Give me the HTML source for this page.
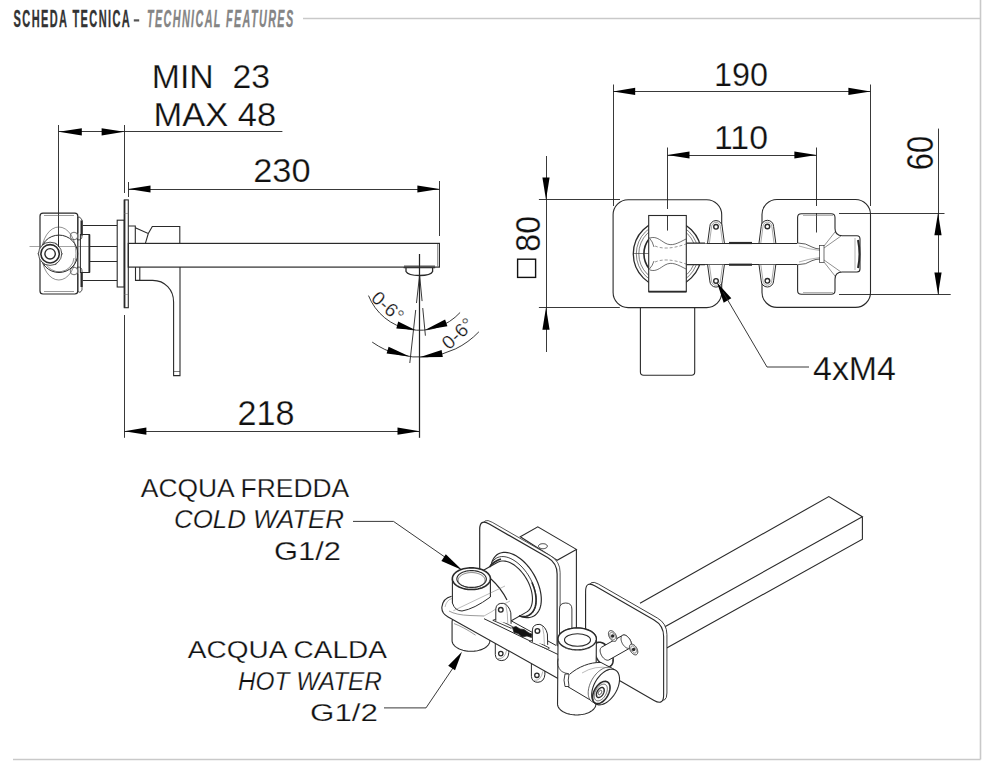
<!DOCTYPE html>
<html><head><meta charset="utf-8"><style>
html,body{margin:0;padding:0;background:#fff;width:1000px;height:776px;overflow:hidden}
svg{display:block}
</style></head><body>
<svg width="1000" height="776" viewBox="0 0 1000 776">
<rect width="1000" height="776" fill="#fff"/>
<g stroke="#333" stroke-width="0.35">
<text x="13.6" y="27.0" font-family="Liberation Sans" font-size="23.7" font-weight="bold" font-style="normal" fill="#333" letter-spacing="3.00" textLength="117.5" lengthAdjust="spacingAndGlyphs">SCHEDA TECNICA</text>
</g>
<rect x="133.8" y="19.3" width="5.4" height="2.2" fill="#555"/>
<g stroke="#858585" stroke-width="0.35">
<text x="147.0" y="27.0" font-family="Liberation Sans" font-size="23.7" font-weight="bold" font-style="italic" fill="#858585" letter-spacing="3.00" textLength="147.5" lengthAdjust="spacingAndGlyphs">TECHNICAL FEATURES</text>
</g>
<line x1="303.0" y1="18.5" x2="980.5" y2="18.5" stroke="#c9c9c9" stroke-width="1.60" />
<line x1="980.5" y1="0.0" x2="980.5" y2="759.5" stroke="#c9c9c9" stroke-width="1.60" />
<line x1="13.0" y1="759.5" x2="980.5" y2="759.5" stroke="#c9c9c9" stroke-width="1.60" />
<line x1="58.5" y1="125.0" x2="58.5" y2="247.0" stroke="#222" stroke-width="0.90" />
<line x1="124.5" y1="125.0" x2="124.5" y2="193.0" stroke="#222" stroke-width="0.90" />
<line x1="58.7" y1="131.5" x2="282.4" y2="131.5" stroke="#222" stroke-width="0.90" />
<polygon points="58.7,131.8 81.8,135.4 81.8,128.2" fill="#000"/>
<polygon points="124.3,131.8 101.6,128.2 101.6,135.4" fill="#000"/>
<text x="151.8" y="88.4" font-family="Liberation Sans" font-size="33.5" font-weight="normal" font-style="normal" fill="#111" textLength="118.2" lengthAdjust="spacingAndGlyphs" stroke="#fff" stroke-width="0.25">MIN&#160;&#160;23</text>
<text x="153.6" y="125.5" font-family="Liberation Sans" font-size="33.5" font-weight="normal" font-style="normal" fill="#111" textLength="122.6" lengthAdjust="spacingAndGlyphs" stroke="#fff" stroke-width="0.25">MAX 48</text>
<line x1="128.5" y1="182.0" x2="128.5" y2="197.0" stroke="#222" stroke-width="0.90" />
<line x1="439.5" y1="181.0" x2="439.5" y2="236.0" stroke="#222" stroke-width="0.90" />
<line x1="128.4" y1="189.5" x2="439.5" y2="189.5" stroke="#222" stroke-width="0.90" />
<polygon points="128.4,189.0 150.5,192.6 150.5,185.4" fill="#000"/>
<polygon points="439.5,189.0 417.4,185.4 417.4,192.6" fill="#000"/>
<text x="253.2" y="182.2" font-family="Liberation Sans" font-size="33.5" font-weight="normal" font-style="normal" fill="#111" textLength="57.4" lengthAdjust="spacingAndGlyphs" stroke="#fff" stroke-width="0.25">230</text>
<line x1="124.5" y1="315.0" x2="124.5" y2="437.8" stroke="#222" stroke-width="0.90" />
<line x1="419.5" y1="254.0" x2="419.5" y2="437.8" stroke="#222" stroke-width="1.25" />
<line x1="124.3" y1="431.5" x2="419.6" y2="431.5" stroke="#222" stroke-width="0.90" />
<polygon points="124.3,431.2 146.4,434.8 146.4,427.6" fill="#000"/>
<polygon points="419.6,431.2 397.5,427.6 397.5,434.8" fill="#000"/>
<text x="237.4" y="425.2" font-family="Liberation Sans" font-size="34.2" font-weight="normal" font-style="normal" fill="#111" textLength="57.0" lengthAdjust="spacingAndGlyphs" stroke="#fff" stroke-width="0.25">218</text>
<rect x="40" y="213.2" width="37.8" height="80.8" rx="3" fill="none" stroke="#2a2a2a" stroke-width="1.2"/>
<line x1="44.0" y1="215.5" x2="74.0" y2="215.5" stroke="#555" stroke-width="0.60" />
<line x1="44.0" y1="291.5" x2="74.0" y2="291.5" stroke="#555" stroke-width="0.60" />
<path d="M77.8 217 V233 Q74 236 77.8 240 Q82 240 82 236 V220 Q80 216 77.8 217 Z" stroke="#2a2a2a" stroke-width="0.80" fill="none" />
<path d="M77.8 267 Q74 270 77.8 274 V291 Q80 294 82 290 V271 Q82 267 77.8 267 Z" stroke="#2a2a2a" stroke-width="0.80" fill="none" />
<circle cx="74" cy="236" r="3.8" fill="#fff" stroke="#333" stroke-width="0.7"/>
<circle cx="74" cy="271" r="3.8" fill="#fff" stroke="#333" stroke-width="0.7"/>
<rect x="80.5" y="220.5" width="2.2" height="15" fill="#2a2a2a"/>
<rect x="80.5" y="272" width="2.2" height="15" fill="#2a2a2a"/>
<ellipse cx="58.8" cy="253.5" rx="17.2" ry="26.5" fill="none" stroke="#444" stroke-width="0.6"/>
<circle cx="59" cy="253.8" r="18.7" fill="none" stroke="#2a2a2a" stroke-width="1.0"/>
<path d="M45 262 A15 15 0 0 0 74 258" stroke="#444" stroke-width="0.60" fill="none" />
<line x1="29.5" y1="246.5" x2="105.0" y2="246.5" stroke="#666" stroke-width="0.60" />
<polygon points="62.2,253.8 56.1,264.3 44,264.3 38,253.8 44,243.3 56.1,243.3" fill="#fff" stroke="#2a2a2a" stroke-width="0.8"/>
<circle cx="50.1" cy="253.8" r="11.6" fill="#fff" stroke="#2a2a2a" stroke-width="0.8"/>
<circle cx="50.1" cy="253.8" r="9.2" fill="none" stroke="#2a2a2a" stroke-width="1.6"/>
<circle cx="50.1" cy="253.8" r="5.2" fill="none" stroke="#2a2a2a" stroke-width="1.4"/>
<line x1="58.5" y1="240.0" x2="58.5" y2="247.0" stroke="#222" stroke-width="0.90" />
<rect x="80.4" y="234.5" width="9" height="38" fill="none" stroke="#2a2a2a" stroke-width="1.0"/>
<line x1="89.4" y1="234.5" x2="89.4" y2="272.5" stroke="#2a2a2a" stroke-width="1.80" />
<line x1="82.7" y1="225.5" x2="117.2" y2="225.5" stroke="#2a2a2a" stroke-width="1.10" />
<line x1="82.7" y1="280.5" x2="117.2" y2="280.5" stroke="#2a2a2a" stroke-width="1.10" />
<line x1="89.4" y1="246.5" x2="124.3" y2="246.5" stroke="#2a2a2a" stroke-width="1.10" />
<line x1="89.4" y1="261.5" x2="124.3" y2="261.5" stroke="#2a2a2a" stroke-width="1.10" />
<rect x="117.2" y="220.2" width="7.1" height="66.8" fill="#fff" stroke="#2a2a2a" stroke-width="1.1"/>
<rect x="124.3" y="199.9" width="4" height="107.8" fill="#fff" stroke="#2a2a2a" stroke-width="1.1"/>
<line x1="124.6" y1="199.9" x2="124.6" y2="307.7" stroke="#2a2a2a" stroke-width="1.60" />
<line x1="124.3" y1="213.5" x2="128.3" y2="213.5" stroke="#777" stroke-width="0.50" />
<line x1="124.3" y1="294.5" x2="128.3" y2="294.5" stroke="#777" stroke-width="0.50" />
<path d="M128.3 226 H135.3 V243" stroke="#2a2a2a" stroke-width="1.10" fill="none" />
<path d="M135.3 227.7 L148.3 233.5 L145.4 243.4 M148.3 233.5 L152.3 226.5 H179.8 V243.4" stroke="#2a2a2a" stroke-width="1.10" fill="none" />
<rect x="128.3" y="243.4" width="311.1" height="23.7" fill="none" stroke="#2a2a2a" stroke-width="1.2"/>
<line x1="437.5" y1="244.0" x2="437.5" y2="266.5" stroke="#555" stroke-width="0.60" />
<path d="M135.5 267.1 V280.4 H139.8 V267.1" stroke="#2a2a2a" stroke-width="1.10" fill="none" />
<path d="M139.8 280.4 H152.7 C165 280.4 173.6 290 173.6 302 V375.6 H180 V267.1" stroke="#2a2a2a" stroke-width="1.10" fill="none" />
<line x1="173.6" y1="371.5" x2="180.0" y2="371.5" stroke="#2a2a2a" stroke-width="0.60" />
<path d="M403.6 267.6 H435.2 M406 268 V271.5 Q408 275.5 419.6 275.5 Q431 275.5 432.6 271.5 V268" stroke="#2a2a2a" stroke-width="1.30" fill="none" />
<line x1="404.0" y1="266.4" x2="435.0" y2="266.4" stroke="#555" stroke-width="1.80" />
<line x1="419.5" y1="254.0" x2="419.5" y2="275.0" stroke="#222" stroke-width="0.90" />
<path d="M419.6 275.2 L409.8 363.0" stroke="#222" stroke-width="0.90" fill="none" stroke-dasharray="28 7 60"/>
<path d="M419.6 275.2 L425.4 335.7" stroke="#222" stroke-width="0.90" fill="none" stroke-dasharray="26 7 60"/>
<path d="M368.5 295.6 A55.0 55.0 0 0 0 460.1 312.5" stroke="#222" stroke-width="0.90" fill="none" />
<path d="M372.2 342.1 A82.0 82.0 0 0 0 478.9 331.8" stroke="#222" stroke-width="0.90" fill="none" />
<polygon points="415.3,330.0 398.2,321.5 396.3,328.4" fill="#000"/>
<polygon points="424.9,329.9 447.4,326.2 445.1,319.4" fill="#000"/>
<polygon points="409.6,356.6 388.6,346.7 386.6,353.6" fill="#000"/>
<polygon points="419.6,357.2 442.8,357.1 441.6,350.0" fill="#000"/>
<text x="0.0" y="0.0" font-family="Liberation Sans" font-size="18.9" font-weight="normal" font-style="normal" fill="#111" textLength="36.0" lengthAdjust="spacingAndGlyphs" stroke="#fff" stroke-width="0.25" transform="translate(370,299.5) rotate(42)">0-6°</text>
<text x="0.0" y="0.0" font-family="Liberation Sans" font-size="18.9" font-weight="normal" font-style="normal" fill="#111" textLength="36.0" lengthAdjust="spacingAndGlyphs" stroke="#fff" stroke-width="0.25" transform="translate(449,350.5) rotate(-43)">0-6°</text>
<path d="M640.4 307.6 V372 Q640.4 375.2 643.6 375.2 H691.5 Q694.7 375.2 694.7 372 V307.6" stroke="#2a2a2a" stroke-width="1.10" fill="none" />
<rect x="613.1" y="199.7" width="108.6" height="107.9" rx="15" fill="#fff" stroke="#2a2a2a" stroke-width="1.1"/>
<rect x="762" y="199.5" width="108.5" height="107.9" rx="15" fill="#fff" stroke="#2a2a2a" stroke-width="1.1"/>
<rect x="686.3" y="243.6" width="111.3" height="20.5" fill="#fff"/>
<line x1="686.3" y1="243.5" x2="797.6" y2="243.5" stroke="#2a2a2a" stroke-width="1.10" />
<line x1="686.3" y1="264.5" x2="797.6" y2="264.5" stroke="#2a2a2a" stroke-width="1.10" />
<line x1="729.0" y1="243.0" x2="752.0" y2="243.0" stroke="#2a2a2a" stroke-width="2.20" />
<line x1="729.0" y1="264.7" x2="752.0" y2="264.7" stroke="#2a2a2a" stroke-width="2.20" />
<circle cx="667.3" cy="253.8" r="34" fill="none" stroke="#2a2a2a" stroke-width="1.3"/>
<circle cx="667.3" cy="253.8" r="31" fill="none" stroke="#2a2a2a" stroke-width="0.6"/>
<circle cx="667.3" cy="253.8" r="28.5" fill="none" stroke="#2a2a2a" stroke-width="0.6"/>
<rect x="686.8" y="243.6" width="20" height="20.5" fill="#fff"/>
<path d="M686.3 243 H705 M686.3 264.7 H705" stroke="#2a2a2a" stroke-width="1.10" fill="none" />
<path d="M649 239 A24 24 0 0 0 649 268.5" stroke="#2a2a2a" stroke-width="1.60" fill="none" />
<line x1="633.5" y1="253.5" x2="649.0" y2="253.5" stroke="#2a2a2a" stroke-width="0.60" />
<rect x="648.7" y="215.5" width="37.6" height="76.2" fill="#fff" stroke="#2a2a2a" stroke-width="1.1"/>
<line x1="648.7" y1="291.7" x2="686.3" y2="291.7" stroke="#2a2a2a" stroke-width="1.80" />
<line x1="667.5" y1="215.5" x2="667.5" y2="230.6" stroke="#222" stroke-width="0.90" />
<path d="M650 238 C656 236 660 240 665 243 C672 247 678 243 686 239" stroke="#333" stroke-width="0.70" fill="none" />
<path d="M650 270 C656 272 660 268 665 265 C672 261 678 265 686 269" stroke="#333" stroke-width="0.70" fill="none" />
<path d="M655 246 C662 249 672 249 686 244" stroke="#555" stroke-width="0.60" fill="none" stroke-dasharray="3 2"/>
<path d="M655 262 C662 259 672 259 686 264" stroke="#555" stroke-width="0.60" fill="none" stroke-dasharray="3 2"/>
<path d="M648.7 237 Q653 242 654 247 M648.7 270 Q653 265 654 261" stroke="#333" stroke-width="0.70" fill="none" />
<path d="M707.6 243 L709.8 226.8 A6.2 6.2 0 0 1 722.2 226.8 L724.4 243" stroke="#2a2a2a" stroke-width="1.00" fill="#fff" />
<path d="M709.4 243 L711.6 226.8 A4.4 4.4 0 0 1 720.4 226.8 L722.6 243" stroke="#555" stroke-width="0.50" fill="none" />
<circle cx="716.0" cy="226.8" r="2.3" fill="#fff" stroke="#2a2a2a" stroke-width="1.4"/>
<path d="M707.6 264.7 L709.8 280.9 A6.2 6.2 0 0 0 722.2 280.9 L724.4 264.7" stroke="#2a2a2a" stroke-width="1.00" fill="#fff" />
<path d="M709.4 264.7 L711.6 280.9 A4.4 4.4 0 0 0 720.4 280.9 L722.6 264.7" stroke="#555" stroke-width="0.50" fill="none" />
<circle cx="716.0" cy="280.9" r="2.3" fill="#fff" stroke="#2a2a2a" stroke-width="1.4"/>
<path d="M759.0 243 L761.2 226.5 A6.2 6.2 0 0 1 773.6 226.5 L775.8 243" stroke="#2a2a2a" stroke-width="1.00" fill="#fff" />
<path d="M760.8 243 L763.0 226.5 A4.4 4.4 0 0 1 771.8 226.5 L774.0 243" stroke="#555" stroke-width="0.50" fill="none" />
<circle cx="767.4" cy="226.5" r="2.3" fill="#fff" stroke="#2a2a2a" stroke-width="1.4"/>
<path d="M759.0 264.7 L761.2 280.8 A6.2 6.2 0 0 0 773.6 280.8 L775.8 264.7" stroke="#2a2a2a" stroke-width="1.00" fill="#fff" />
<path d="M760.8 264.7 L763.0 280.8 A4.4 4.4 0 0 0 771.8 280.8 L774.0 264.7" stroke="#555" stroke-width="0.50" fill="none" />
<circle cx="767.4" cy="280.8" r="2.3" fill="#fff" stroke="#2a2a2a" stroke-width="1.4"/>
<path d="M797.6 243 V217.5 Q797.6 213.7 801.4 213.7 H831.2 Q835 213.7 835 217.5 V228.5 Q835 235.7 842.2 235.7 H857 Q860 235.7 860 239 V269 Q860 272 857 272 H842.2 Q835 272 835 279.2 V290.4 Q835 294.2 831.2 294.2 H801.4 Q797.6 294.2 797.6 290.4 V264.7" stroke="#2a2a2a" stroke-width="1.10" fill="#fff" />
<line x1="816.5" y1="213.0" x2="816.5" y2="232.5" stroke="#222" stroke-width="0.90" />
<line x1="803.0" y1="215.5" x2="833.0" y2="215.5" stroke="#666" stroke-width="0.50" />
<line x1="803.0" y1="292.5" x2="833.0" y2="292.5" stroke="#666" stroke-width="0.50" />
<path d="M797.6 243 Q806 243 812 247 Q816 249 820 249 M797.6 264.7 Q806 264.7 812 260.7 Q816 259 820 259" stroke="#333" stroke-width="0.80" fill="none" />
<path d="M799 246 Q808 249 820 250.5 M799 262 Q808 259 820 257.5" stroke="#666" stroke-width="0.50" fill="none" />
<rect x="819.5" y="245.5" width="4.5" height="17" fill="none" stroke="#333" stroke-width="0.7"/>
<path d="M824 246 L835 232 M824 262 L835 276 M824 248 L841 236 M824 260 L841 272" stroke="#444" stroke-width="0.60" fill="none" />
<path d="M858 240 Q861 254 858 268" stroke="#2a2a2a" stroke-width="2.00" fill="none" />
<path d="M855 238 V270" stroke="#666" stroke-width="0.50" fill="none" />
<line x1="613.5" y1="84.5" x2="613.5" y2="206.0" stroke="#222" stroke-width="0.90" />
<line x1="870.5" y1="84.5" x2="870.5" y2="206.0" stroke="#222" stroke-width="0.90" />
<line x1="613.1" y1="91.5" x2="870.5" y2="91.5" stroke="#222" stroke-width="0.90" />
<polygon points="613.1,91.4 635.2,95.0 635.2,87.8" fill="#000"/>
<polygon points="870.5,91.4 848.4,87.8 848.4,95.0" fill="#000"/>
<text x="714.0" y="85.8" font-family="Liberation Sans" font-size="32.8" font-weight="normal" font-style="normal" fill="#111" textLength="54.0" lengthAdjust="spacingAndGlyphs" stroke="#fff" stroke-width="0.25">190</text>
<line x1="667.5" y1="147.5" x2="667.5" y2="209.0" stroke="#222" stroke-width="0.90" />
<line x1="816.5" y1="147.5" x2="816.5" y2="206.0" stroke="#222" stroke-width="0.90" />
<line x1="667.4" y1="155.5" x2="816.5" y2="155.5" stroke="#222" stroke-width="0.90" />
<polygon points="667.4,155.0 689.5,158.6 689.5,151.4" fill="#000"/>
<polygon points="816.5,155.0 794.4,151.4 794.4,158.6" fill="#000"/>
<text x="714.0" y="148.8" font-family="Liberation Sans" font-size="32.8" font-weight="normal" font-style="normal" fill="#111" textLength="54.0" lengthAdjust="spacingAndGlyphs" stroke="#fff" stroke-width="0.25">110</text>
<line x1="538.9" y1="199.5" x2="620.0" y2="199.5" stroke="#222" stroke-width="0.90" />
<line x1="538.9" y1="307.5" x2="619.8" y2="307.5" stroke="#222" stroke-width="0.90" />
<line x1="546.5" y1="156.0" x2="546.5" y2="352.0" stroke="#222" stroke-width="0.90" />
<polygon points="546.0,199.8 549.6,177.6 542.4,177.6" fill="#000"/>
<polygon points="546.0,307.6 542.4,329.8 549.6,329.8" fill="#000"/>
<text x="0.0" y="0.0" font-family="Liberation Sans" font-size="34.4" font-weight="normal" font-style="normal" fill="#111" textLength="35.7" lengthAdjust="spacingAndGlyphs" stroke="#fff" stroke-width="0.25" transform="translate(540,251.7) rotate(-90)">80</text>
<rect x="517.6" y="259.2" width="18" height="18.2" fill="none" stroke="#111" stroke-width="1.4"/>
<line x1="839.0" y1="213.5" x2="944.5" y2="213.5" stroke="#222" stroke-width="0.90" />
<line x1="839.0" y1="294.5" x2="950.7" y2="294.5" stroke="#222" stroke-width="0.90" />
<line x1="938.5" y1="128.6" x2="938.5" y2="294.5" stroke="#222" stroke-width="0.90" />
<polygon points="938.0,213.1 934.4,235.2 941.6,235.2" fill="#000"/>
<polygon points="938.0,294.5 941.6,272.4 934.4,272.4" fill="#000"/>
<text x="0.0" y="0.0" font-family="Liberation Sans" font-size="36.9" font-weight="normal" font-style="normal" fill="#111" textLength="34.2" lengthAdjust="spacingAndGlyphs" stroke="#fff" stroke-width="0.25" transform="translate(933,170.2) rotate(-90)">60</text>
<polygon points="717.0,282.5 723.7,302.7 731.3,298.3" fill="#000"/>
<path d="M723 292 L767 367 H809" stroke="#222" stroke-width="0.90" fill="none" />
<text x="813.0" y="379.6" font-family="Liberation Sans" font-size="33.0" font-weight="normal" font-style="normal" fill="#111" textLength="83.0" lengthAdjust="spacingAndGlyphs" stroke="#fff" stroke-width="0.25">4xM4</text>
<path d="M640 603.2 L828.8 496.6 L862.4 516.8 L664 627.2 M862.4 516.8 V539.2 L664 649.6" stroke="#2a2a2a" stroke-width="1.10" fill="none" />
<path d="M598.44 584.09 L657.39 618.02 Q666.93 623.51 666.93 634.51 L666.93 693.01 Q666.93 704.01 657.39 698.52 L598.44 664.59 Q588.90 659.10 588.90 648.10 L588.90 589.60 Q588.90 578.60 598.44 584.09 Z" stroke="#2a2a2a" stroke-width="0.90" fill="#fff" />
<path d="M595.14 585.99 L654.09 619.92 Q663.63 625.41 663.63 636.41 L663.63 694.91 Q663.63 705.91 654.09 700.42 L595.14 666.49 Q585.60 661.00 585.60 650.00 L585.60 591.50 Q585.60 580.50 595.14 585.99 Z" stroke="#2a2a2a" stroke-width="1.10" fill="#fff" />
<path d="M520.3 536.8 L537.8 526.8 L576.4 549.4 L557.1 560.3 Z" stroke="#2a2a2a" stroke-width="1.10" fill="#fff" />
<path d="M576.4 549.4 V640" stroke="#2a2a2a" stroke-width="1.10" fill="none" />
<path d="M546.02 548.00 L546.28 547.84 L546.52 547.66 L546.73 547.48 L546.91 547.28 L547.05 547.08 L547.17 546.87 L547.26 546.66 L547.31 546.44 L547.32 546.22 L547.31 546.00 L547.26 545.78 L547.18 545.56 L547.06 545.35 L546.91 545.15 L546.74 544.95 L546.53 544.77 L546.30 544.59 L546.04 544.43 L545.75 544.28 L545.45 544.14 L545.12 544.02 L544.78 543.92 L544.42 543.84 L544.05 543.77 L543.68 543.72 L543.30 543.69 L542.91 543.68 L542.52 543.69 L542.14 543.71 L541.76 543.76 L541.40 543.82 L541.04 543.91 L540.70 544.01 L540.37 544.12 L540.06 544.26 L539.78 544.40 L539.52 544.56 L539.28 544.74 L539.07 544.92 L538.89 545.12 L538.75 545.32 L538.63 545.53 L538.54 545.74 L538.49 545.96 L538.48 546.18 L538.49 546.40 L538.54 546.62 L538.62 546.84 L538.74 547.05 L538.89 547.25 L539.06 547.45 L539.27 547.63 L539.50 547.81 L539.76 547.97 L540.05 548.12 L540.35 548.26 L540.68 548.38 L541.02 548.48 L541.38 548.56 L541.75 548.63 L542.12 548.68 L542.50 548.71 L542.89 548.72 L543.28 548.71 L543.66 548.69 L544.04 548.64 L544.40 548.58 L544.76 548.49 L545.10 548.39 L545.43 548.28 L545.74 548.14 Z" stroke="#2a2a2a" stroke-width="1.00" fill="none" />
<path d="M492.24 522.29 L550.59 555.87 Q560.12 561.36 560.12 572.36 L560.12 675.36 Q560.12 686.36 550.59 680.87 L492.24 647.29 Q482.70 641.80 482.70 630.80 L482.70 527.80 Q482.70 516.80 492.24 522.29 Z" stroke="none" stroke-width="0.00" fill="#fff" />
<path d="M482.70 596.80 L482.70 527.80 Q482.70 516.80 492.24 522.29 L550.59 555.87 Q560.12 561.36 560.12 572.36 L560.12 646.36" stroke="#2a2a2a" stroke-width="0.80" fill="none" />
<path d="M489.24 523.99 L547.59 557.57 Q557.12 563.06 557.12 574.06 L557.12 677.06 Q557.12 688.06 547.59 682.57 L489.24 648.99 Q479.70 643.50 479.70 632.50 L479.70 529.50 Q479.70 518.50 489.24 523.99 Z" stroke="none" stroke-width="0.00" fill="#fff" />
<path d="M479.70 598.50 L479.70 529.50 Q479.70 518.50 489.24 523.99 L547.59 557.57 Q557.12 563.06 557.12 574.06 L557.12 648.06" stroke="#2a2a2a" stroke-width="1.20" fill="none" />
<path d="M559.5 650 V609 Q559.5 603 565.7 603 Q571.9 603 571.9 609 V650" stroke="#2a2a2a" stroke-width="0.90" fill="#fff" />
<line x1="585.5" y1="594.0" x2="585.5" y2="650.0" stroke="#2a2a2a" stroke-width="0.90" />
<path d="M541.32 599.57 L541.22 602.06 L540.93 604.42 L540.45 606.63 L539.79 608.68 L538.94 610.55 L537.92 612.22 L536.74 613.68 L535.39 614.93 L533.90 615.95 L532.27 616.73 L530.52 617.28 L528.66 617.57 L526.70 617.62 L524.66 617.42 L522.55 616.98 L520.40 616.29 L518.21 615.36 L516.00 614.20 L513.79 612.82 L511.60 611.23 L509.45 609.43 L507.34 607.46 L505.30 605.31 L503.34 603.00 L501.48 600.56 L499.73 598.00 L498.10 595.34 L496.61 592.61 L495.26 589.81 L494.08 586.98 L493.06 584.13 L492.21 581.29 L491.55 578.48 L491.07 575.72 L490.78 573.03 L490.68 570.43 L490.78 567.94 L491.07 565.58 L491.55 563.37 L492.21 561.32 L493.06 559.45 L494.08 557.78 L495.26 556.32 L496.61 555.07 L498.10 554.05 L499.73 553.27 L501.48 552.72 L503.34 552.43 L505.30 552.38 L507.34 552.58 L509.45 553.02 L511.60 553.71 L513.79 554.64 L516.00 555.80 L518.21 557.18 L520.40 558.77 L522.55 560.57 L524.66 562.54 L526.70 564.69 L528.66 567.00 L530.52 569.44 L532.27 572.00 L533.90 574.66 L535.39 577.39 L536.74 580.19 L537.92 583.02 L538.94 585.87 L539.79 588.71 L540.45 591.52 L540.93 594.28 L541.22 596.97 Z" stroke="#2a2a2a" stroke-width="1.20" fill="#fff" />
<path d="M536.36 600.19 L536.27 602.50 L536.00 604.68 L535.56 606.72 L534.95 608.62 L534.17 610.34 L533.22 611.89 L532.13 613.24 L530.88 614.40 L529.50 615.34 L528.00 616.07 L526.38 616.57 L524.66 616.84 L522.84 616.89 L520.96 616.70 L519.01 616.29 L517.02 615.65 L514.99 614.79 L512.95 613.72 L510.91 612.45 L508.89 610.97 L506.89 609.31 L504.95 607.49 L503.06 605.50 L501.25 603.37 L499.52 601.11 L497.90 598.74 L496.40 596.29 L495.02 593.76 L493.78 591.17 L492.68 588.55 L491.74 585.92 L490.95 583.30 L490.34 580.70 L489.90 578.14 L489.63 575.65 L489.54 573.25 L489.63 570.95 L489.90 568.77 L490.34 566.72 L490.95 564.83 L491.74 563.10 L492.68 561.55 L493.78 560.20 L495.02 559.05 L496.40 558.10 L497.90 557.38 L499.52 556.88 L501.25 556.60 L503.06 556.56 L504.95 556.74 L506.89 557.15 L508.89 557.79 L510.91 558.65 L512.95 559.72 L514.99 561.00 L517.02 562.47 L519.01 564.13 L520.96 565.96 L522.84 567.95 L524.66 570.08 L526.38 572.33 L528.00 574.70 L529.50 577.16 L530.88 579.69 L532.13 582.27 L533.22 584.89 L534.17 587.52 L534.95 590.15 L535.56 592.75 L536.00 595.30 L536.27 597.79 Z" stroke="#2a2a2a" stroke-width="0.90" fill="#fff" />
<path d="M467.75 589.02 L467.83 587.01 L468.06 585.12 L468.45 583.34 L468.98 581.69 L469.66 580.18 L470.48 578.84 L471.44 577.66 L472.52 576.65 L473.72 575.84 L497.67 562.30 L498.98 561.67 L500.39 561.24 L501.89 561.00 L503.47 560.96 L505.11 561.12 L506.81 561.48 L508.54 562.03 L510.31 562.78 L512.08 563.71 L513.86 564.83 L515.62 566.11 L517.35 567.55 L519.05 569.14 L520.69 570.87 L522.27 572.73 L523.77 574.69 L525.18 576.75 L526.49 578.89 L527.69 581.09 L528.77 583.34 L529.73 585.62 L530.55 587.91 L531.23 590.20 L531.76 592.46 L532.14 594.68 L532.38 596.85 L532.46 598.94 L532.38 600.94 L532.14 602.84 L531.76 604.62 L531.23 606.27 L530.55 607.77 L529.73 609.12 L528.77 610.30 L527.69 611.30 L526.49 612.12 L502.54 625.65 L501.22 626.28 L499.81 626.72 L498.31 626.96 L496.74 627.00 L495.10 626.84 L493.40 626.48 L491.67 625.92 L489.90 625.18 L488.13 624.24 L486.35 623.13 L484.59 621.85 L482.86 620.41 L481.16 618.82 L479.52 617.09 L477.94 615.23 L476.44 613.27 L475.03 611.21 L473.72 609.07 L472.52 606.87 L471.44 604.62 L470.48 602.34 L469.66 600.05 L468.98 597.76 L468.45 595.50 L468.06 593.28 L467.83 591.11 Z" stroke="#2a2a2a" stroke-width="1.10" fill="#fff" />
<path d="M531.84 582.34 L532.92 584.92 L533.85 587.51 L534.62 590.10 L535.23 592.66 L535.66 595.17 L535.93 597.63 L536.01 600.00 L535.93 602.26 L535.66 604.41 L535.23 606.43 L534.62 608.29 L533.85 609.99 L532.92 611.52 L531.84 612.85 L530.62 613.99 L529.26 614.92 L527.78 615.63 L526.18 616.12 L524.48 616.39 L522.70 616.44 L520.84 616.26 L518.92 615.85" stroke="#2a2a2a" stroke-width="1.50" fill="none" />
<path d="M489.5 567 Q494 561 501 559" stroke="#2a2a2a" stroke-width="1.80" fill="none" />
<path d="M491 579 Q501 588 507 600" stroke="#2a2a2a" stroke-width="1.20" fill="none" />
<path d="M495.3 641.6 L495.3 654.6 Q495.8 660.6 501.8 660.6 Q508.3 660.1 508.8 652.6 L508.8 643.6" stroke="#2a2a2a" stroke-width="1.00" fill="#fff" />
<path d="M497.8 658.6 Q504.8 659.6 506.8 649.6" stroke="#666" stroke-width="0.50" fill="none" />
<circle cx="500.8" cy="653.6" r="2.2" fill="#fff" stroke="#2a2a2a" stroke-width="1.3"/>
<path d="M531.4 663.3 L531.4 676.3 Q531.9 682.3 537.9 682.3 Q544.4 681.8 544.9 674.3 L544.9 665.3" stroke="#2a2a2a" stroke-width="1.00" fill="#fff" />
<path d="M533.9 680.3 Q540.9 681.3 542.9 671.3" stroke="#666" stroke-width="0.50" fill="none" />
<circle cx="536.9" cy="675.3" r="2.2" fill="#fff" stroke="#2a2a2a" stroke-width="1.3"/>
<path d="M452.07 621.92 L452.15 620.98 L452.37 620.05 L452.73 619.13 L453.23 618.24 L453.87 617.37 L454.63 616.54 L455.52 615.75 L456.53 615.00 L457.65 614.32 L458.87 613.68 L460.18 613.12 L461.57 612.62 L463.04 612.19 L464.57 611.83 L466.14 611.56 L467.76 611.36 L469.39 611.24 L471.04 611.21 L472.69 611.26 L474.33 611.39 L475.94 611.60 L477.51 611.88 L479.04 612.25 L480.50 612.69 L481.89 613.20 L483.20 613.78 L484.41 614.42 L485.53 615.12 L486.53 615.87 L487.41 616.67 L488.17 617.51 L488.80 618.38 L489.29 619.28 L489.65 620.20 L489.86 621.13 L489.93 622.08 L489.93 640.58 L489.85 641.52 L489.63 642.45 L489.27 643.37 L488.77 644.26 L488.13 645.13 L487.37 645.96 L486.48 646.75 L485.47 647.50 L484.35 648.18 L483.13 648.82 L481.82 649.38 L480.43 649.88 L478.96 650.31 L477.43 650.67 L475.86 650.94 L474.24 651.14 L472.61 651.26 L470.96 651.29 L469.31 651.24 L467.67 651.11 L466.06 650.90 L464.49 650.62 L462.96 650.25 L461.50 649.81 L460.11 649.30 L458.80 648.72 L457.59 648.08 L456.47 647.38 L455.47 646.63 L454.59 645.83 L453.83 644.99 L453.20 644.12 L452.71 643.22 L452.35 642.30 L452.14 641.37 L452.07 640.42 Z" stroke="#2a2a2a" stroke-width="1.10" fill="#fff" />
<path d="M454 623.6 Q463 626.7 475.6 635.2" stroke="#555" stroke-width="0.60" fill="none" />
<path d="M447.7 616.7 L562 680.7 L562 648.7 L490 609.3 L451.6 596.2 C446 597.5 442.5 601 441.9 607 C441.5 611 443 614 447.7 616.7 Z" stroke="none" stroke-width="0.00" fill="#fff" />
<path d="M451.6 596.2 C446 597.5 442.5 601 441.9 607 C441.5 611 443 614 447.7 616.7 L562 680.7" stroke="#2a2a2a" stroke-width="1.10" fill="none" />
<path d="M445 607 Q446.5 600 452 598.5" stroke="#777" stroke-width="0.50" fill="none" />
<path d="M452.35 578.62 L452.43 577.68 L452.65 576.74 L453.01 575.82 L453.51 574.91 L454.15 574.04 L454.93 573.20 L455.82 572.41 L456.84 571.66 L457.96 570.97 L459.19 570.33 L460.51 569.76 L461.91 569.25 L463.39 568.82 L464.93 568.47 L466.51 568.19 L468.13 567.99 L469.78 567.87 L471.44 567.84 L473.10 567.89 L474.75 568.02 L476.37 568.23 L477.96 568.52 L479.49 568.89 L480.96 569.33 L482.36 569.85 L483.68 570.43 L484.90 571.07 L486.02 571.78 L487.03 572.53 L487.92 573.34 L488.68 574.18 L489.31 575.06 L489.81 575.96 L490.17 576.89 L490.38 577.83 L490.45 578.78 L490.45 598.58 L490.37 599.52 L490.15 600.46 L489.79 601.38 L489.29 602.29 L488.65 603.16 L487.88 604.00 L486.98 604.79 L485.96 605.54 L484.84 606.24 L483.61 606.87 L482.29 607.44 L480.89 607.95 L479.41 608.38 L477.87 608.73 L476.29 609.01 L474.67 609.21 L473.02 609.33 L471.36 609.36 L469.70 609.31 L468.05 609.18 L466.43 608.97 L464.84 608.68 L463.31 608.31 L461.84 607.87 L460.44 607.35 L459.12 606.77 L457.90 606.13 L456.78 605.42 L455.77 604.67 L454.88 603.86 L454.12 603.02 L453.49 602.14 L452.99 601.24 L452.63 600.31 L452.42 599.37 L452.35 598.42 Z" stroke="none" stroke-width="0.00" fill="#fff" />
<path d="M452.4 579 V603 M490.4 579 V597" stroke="#2a2a2a" stroke-width="1.10" fill="none" />
<path d="M452.4 603 Q455 611 462 611 Q474 609 490.4 597" stroke="#2a2a2a" stroke-width="1.00" fill="none" />
<path d="M449 611 Q456 615 470 615.5 L484 616" stroke="#555" stroke-width="0.60" fill="none" />
<path d="M453.4 610.7 L505 586" stroke="#777" stroke-width="0.50" fill="none" />
<path d="M484 616 Q492 612 500 606 L510 601" stroke="#777" stroke-width="0.50" fill="none" />
<line x1="484.0" y1="618.7" x2="558.0" y2="654.5" stroke="#2a2a2a" stroke-width="1.00" />
<path d="M484.84 586.43 L485.96 585.74 L486.98 584.99 L487.87 584.20 L488.65 583.36 L489.28 582.49 L489.79 581.59 L490.15 580.66 L490.37 579.72 L490.45 578.78 L490.38 577.83 L490.17 576.89 L489.81 575.96 L489.31 575.06 L488.68 574.18 L487.92 573.34 L487.03 572.53 L486.02 571.78 L484.90 571.07 L483.68 570.43 L482.36 569.85 L480.96 569.33 L479.49 568.89 L477.96 568.52 L476.37 568.23 L474.75 568.02 L473.10 567.89 L471.44 567.84 L469.78 567.87 L468.14 567.99 L466.51 568.19 L464.93 568.47 L463.39 568.82 L461.91 569.26 L460.51 569.76 L459.19 570.33 L457.96 570.97 L456.84 571.66 L455.82 572.41 L454.93 573.20 L454.15 574.04 L453.52 574.91 L453.01 575.81 L452.65 576.74 L452.43 577.68 L452.35 578.62 L452.42 579.57 L452.63 580.51 L452.99 581.44 L453.49 582.34 L454.12 583.22 L454.88 584.06 L455.77 584.87 L456.78 585.62 L457.90 586.33 L459.12 586.97 L460.44 587.55 L461.84 588.07 L463.31 588.51 L464.84 588.88 L466.43 589.17 L468.05 589.38 L469.70 589.51 L471.36 589.56 L473.02 589.53 L474.66 589.41 L476.29 589.21 L477.87 588.93 L479.41 588.58 L480.89 588.14 L482.29 587.64 L483.61 587.07 Z" stroke="#2a2a2a" stroke-width="1.60" fill="#fff" />
<path d="M482.00 584.99 L482.88 584.45 L483.66 583.87 L484.35 583.26 L484.95 582.61 L485.45 581.93 L485.84 581.23 L486.12 580.52 L486.29 579.79 L486.35 579.06 L486.29 578.33 L486.13 577.60 L485.85 576.88 L485.47 576.18 L484.98 575.50 L484.39 574.85 L483.70 574.23 L482.92 573.64 L482.05 573.10 L481.11 572.60 L480.09 572.15 L479.00 571.75 L477.86 571.40 L476.68 571.12 L475.45 570.89 L474.19 570.73 L472.92 570.63 L471.63 570.59 L470.35 570.62 L469.07 570.71 L467.82 570.86 L466.59 571.08 L465.40 571.35 L464.26 571.69 L463.17 572.08 L462.15 572.52 L461.20 573.01 L460.32 573.55 L459.54 574.13 L458.85 574.74 L458.25 575.39 L457.75 576.07 L457.36 576.77 L457.08 577.48 L456.91 578.21 L456.85 578.94 L456.91 579.67 L457.07 580.40 L457.35 581.12 L457.73 581.82 L458.22 582.50 L458.81 583.15 L459.50 583.77 L460.28 584.36 L461.15 584.90 L462.09 585.40 L463.11 585.85 L464.20 586.25 L465.34 586.60 L466.52 586.88 L467.75 587.11 L469.01 587.27 L470.28 587.37 L471.57 587.41 L472.85 587.38 L474.13 587.29 L475.38 587.14 L476.61 586.92 L477.80 586.65 L478.94 586.31 L480.03 585.92 L481.05 585.48 Z" stroke="#2a2a2a" stroke-width="1.10" fill="none" />
<path d="M481.05 585.64 L481.84 585.15 L482.56 584.63 L483.19 584.07 L483.73 583.48 L484.18 582.86 L484.53 582.23 L484.79 581.58 L484.94 580.92 L485.00 580.25 L484.95 579.59 L484.80 578.93 L484.55 578.28 L484.20 577.64 L483.75 577.02 L483.22 576.43 L482.59 575.86 L481.88 575.33 L481.09 574.84 L480.23 574.38 L479.31 573.97 L478.32 573.61 L477.29 573.30 L476.21 573.04 L475.10 572.84 L473.96 572.69 L472.80 572.60 L471.63 572.56 L470.46 572.59 L469.30 572.67 L468.16 572.81 L467.05 573.00 L465.97 573.25 L464.93 573.56 L463.94 573.91 L463.01 574.31 L462.15 574.76 L461.36 575.25 L460.64 575.77 L460.01 576.33 L459.47 576.92 L459.02 577.54 L458.67 578.17 L458.41 578.82 L458.26 579.48 L458.20 580.15 L458.25 580.81 L458.40 581.47 L458.65 582.12 L459.00 582.76 L459.45 583.38 L459.98 583.97 L460.61 584.54 L461.32 585.07 L462.11 585.56 L462.97 586.02 L463.89 586.43 L464.88 586.79 L465.91 587.10 L466.99 587.36 L468.10 587.56 L469.24 587.71 L470.40 587.80 L471.57 587.84 L472.74 587.81 L473.90 587.73 L475.04 587.59 L476.15 587.40 L477.23 587.15 L478.27 586.84 L479.26 586.49 L480.19 586.09 Z" stroke="#333" stroke-width="0.60" fill="none" />
<line x1="507.0" y1="618.5" x2="556.0" y2="645.4" stroke="#2a2a2a" stroke-width="1.00" />
<path d="M492.8 620.3 L496.8 618.8 L512.8 626.8 L511.3 628.3 Z" stroke="#2a2a2a" stroke-width="0.90" fill="#fff" />
<path d="M495.8 620.8 L495.8 608.8 Q496.3 602.8 503.3 603.3 Q508.8 604.8 510.8 612.8 L511.1 623.8" stroke="#2a2a2a" stroke-width="1.00" fill="#fff" />
<path d="M505.8 604.8 Q507.8 612.8 507.8 623.8" stroke="#666" stroke-width="0.50" fill="none" />
<circle cx="500.8" cy="609.8" r="2.3" fill="#fff" stroke="#2a2a2a" stroke-width="1.4"/>
<path d="M529.4 641.4 L533.4 639.9 L549.4 647.9 L547.9 649.4 Z" stroke="#2a2a2a" stroke-width="0.90" fill="#fff" />
<path d="M532.4 641.9 L532.4 629.9 Q532.9 623.9 539.9 624.4 Q545.4 625.9 547.4 633.9 L547.7 644.9" stroke="#2a2a2a" stroke-width="1.00" fill="#fff" />
<path d="M542.4 625.9 Q544.4 633.9 544.4 644.9" stroke="#666" stroke-width="0.50" fill="none" />
<circle cx="537.4" cy="630.9" r="2.3" fill="#fff" stroke="#2a2a2a" stroke-width="1.4"/>
<path d="M512.5 627.5 L516 626.5 L520 629 L524 629.5 L529 633 L532 634 L531.5 637.5 L527 636 L522 637 L518 633.5 L514 632.5 Z" stroke="#2a2a2a" stroke-width="0.80" fill="#111" />
<path d="M613.14 659.99 L613.10 660.93 L612.99 661.82 L612.81 662.65 L612.56 663.42 L612.24 664.12 L611.86 664.75 L611.41 665.31 L610.91 665.78 L610.34 666.16 L609.73 666.45 L609.07 666.66 L608.37 666.77 L607.63 666.79 L606.86 666.71 L606.07 666.55 L605.26 666.29 L604.43 665.94 L603.60 665.50 L602.77 664.98 L601.94 664.38 L601.13 663.70 L600.34 662.96 L599.57 662.15 L598.83 661.28 L598.13 660.36 L597.47 659.40 L596.86 658.40 L596.29 657.37 L595.79 656.31 L595.34 655.25 L594.96 654.17 L594.64 653.10 L594.39 652.05 L594.21 651.00 L594.10 649.99 L594.06 649.01 L594.10 648.07 L594.21 647.18 L594.39 646.35 L594.64 645.58 L594.96 644.88 L595.34 644.25 L595.79 643.69 L596.29 643.22 L596.86 642.84 L597.47 642.55 L598.13 642.34 L598.83 642.23 L599.57 642.21 L600.34 642.29 L601.13 642.45 L601.94 642.71 L602.77 643.06 L603.60 643.50 L604.43 644.02 L605.26 644.62 L606.07 645.30 L606.86 646.04 L607.63 646.85 L608.37 647.72 L609.07 648.64 L609.73 649.60 L610.34 650.60 L610.91 651.63 L611.41 652.69 L611.86 653.75 L612.24 654.83 L612.56 655.90 L612.81 656.95 L612.99 658.00 L613.10 659.01 Z" stroke="#2a2a2a" stroke-width="1.60" fill="#fff" />
<path d="M600.14 650.52 L600.16 650.01 L600.22 649.53 L600.32 649.07 L600.45 648.65 L600.63 648.27 L600.84 647.92 L601.08 647.62 L601.36 647.37 L601.66 647.16 L622.57 635.35 L622.90 635.19 L623.26 635.08 L623.64 635.01 L624.05 635.00 L624.47 635.05 L624.90 635.14 L625.34 635.28 L625.79 635.47 L626.25 635.71 L626.70 635.99 L627.15 636.32 L627.59 636.69 L628.02 637.09 L628.44 637.53 L628.85 638.01 L629.23 638.51 L629.59 639.04 L629.92 639.58 L630.23 640.14 L630.51 640.72 L630.75 641.30 L630.96 641.89 L631.13 642.47 L631.27 643.05 L631.37 643.62 L631.43 644.17 L631.45 644.70 L631.43 645.21 L631.37 645.70 L631.27 646.15 L631.13 646.57 L630.96 646.96 L630.75 647.30 L630.51 647.60 L630.23 647.86 L629.92 648.07 L609.02 659.88 L608.69 660.04 L608.33 660.15 L607.94 660.21 L607.54 660.22 L607.12 660.18 L606.69 660.09 L606.25 659.95 L605.79 659.75 L605.34 659.52 L604.89 659.23 L604.44 658.90 L604.00 658.54 L603.56 658.13 L603.14 657.69 L602.74 657.22 L602.36 656.71 L602.00 656.19 L601.66 655.64 L601.36 655.08 L601.08 654.50 L600.84 653.92 L600.63 653.34 L600.45 652.75 L600.32 652.18 L600.22 651.61 L600.16 651.06 Z" stroke="#2a2a2a" stroke-width="1.00" fill="#fff" />
<path d="M631.45 644.70 L631.43 645.21 L631.37 645.70 L631.27 646.15 L631.13 646.57 L630.96 646.96 L630.75 647.30 L630.51 647.60 L630.23 647.86 L629.92 648.07 L629.59 648.23 L629.23 648.34 L628.85 648.40 L628.44 648.41 L628.03 648.37 L627.59 648.28 L627.15 648.14 L626.70 647.95 L626.25 647.71 L625.79 647.42 L625.34 647.10 L624.90 646.73 L624.47 646.32 L624.05 645.88 L623.64 645.41 L623.26 644.91 L622.90 644.38 L622.57 643.83 L622.26 643.27 L621.98 642.70 L621.74 642.12 L621.53 641.53 L621.36 640.95 L621.22 640.37 L621.12 639.80 L621.06 639.25 L621.04 638.71 L621.06 638.20 L621.12 637.72 L621.22 637.26 L621.36 636.84 L621.53 636.46 L621.74 636.12 L621.98 635.81 L622.26 635.56 L622.57 635.35 L622.90 635.19 L623.26 635.08 L623.64 635.01 L624.05 635.00 L624.47 635.05 L624.90 635.14 L625.34 635.28 L625.79 635.47 L626.25 635.71 L626.70 635.99 L627.15 636.32 L627.59 636.69 L628.03 637.09 L628.44 637.54 L628.85 638.01 L629.23 638.51 L629.59 639.04 L629.92 639.58 L630.23 640.14 L630.51 640.72 L630.75 641.30 L630.96 641.89 L631.13 642.47 L631.27 643.05 L631.37 643.61 L631.43 644.17 Z" stroke="#2a2a2a" stroke-width="0.90" fill="#fff" />
<path d="M616.76 638.40 L616.75 638.80 L616.70 639.19 L616.62 639.56 L616.51 639.89 L616.37 640.20 L616.20 640.47 L616.01 640.72 L615.79 640.92 L615.54 641.09 L615.28 641.22 L614.99 641.31 L614.68 641.35 L614.36 641.36 L614.02 641.33 L613.68 641.26 L613.32 641.14 L612.96 640.99 L612.60 640.80 L612.24 640.57 L611.88 640.31 L611.52 640.02 L611.18 639.69 L610.84 639.34 L610.52 638.96 L610.21 638.56 L609.92 638.14 L609.66 637.70 L609.41 637.25 L609.19 636.79 L609.00 636.33 L608.83 635.86 L608.69 635.39 L608.58 634.93 L608.50 634.47 L608.45 634.03 L608.44 633.60 L608.45 633.20 L608.50 632.81 L608.58 632.44 L608.69 632.11 L608.83 631.80 L609.00 631.53 L609.19 631.28 L609.41 631.08 L609.66 630.91 L609.92 630.78 L610.21 630.69 L610.52 630.65 L610.84 630.64 L611.18 630.67 L611.52 630.74 L611.88 630.86 L612.24 631.01 L612.60 631.20 L612.96 631.43 L613.32 631.69 L613.68 631.98 L614.02 632.31 L614.36 632.66 L614.68 633.04 L614.99 633.44 L615.28 633.86 L615.54 634.30 L615.79 634.75 L616.01 635.21 L616.20 635.67 L616.37 636.14 L616.51 636.61 L616.62 637.07 L616.70 637.53 L616.75 637.97 Z" stroke="#2a2a2a" stroke-width="1.00" fill="#fff" />
<path d="M615.37 637.60 L615.36 637.87 L615.33 638.13 L615.28 638.37 L615.21 638.59 L615.11 638.80 L615.00 638.98 L614.87 639.14 L614.73 639.28 L614.56 639.39 L614.38 639.48 L614.19 639.54 L613.99 639.57 L613.77 639.58 L613.55 639.55 L613.32 639.50 L613.08 639.43 L612.84 639.33 L612.60 639.20 L612.36 639.05 L612.12 638.87 L611.88 638.68 L611.65 638.46 L611.43 638.23 L611.21 637.97 L611.01 637.71 L610.82 637.42 L610.64 637.13 L610.47 636.83 L610.33 636.53 L610.20 636.22 L610.09 635.91 L609.99 635.59 L609.92 635.29 L609.87 634.98 L609.84 634.69 L609.83 634.40 L609.84 634.13 L609.87 633.87 L609.92 633.63 L609.99 633.41 L610.09 633.20 L610.20 633.02 L610.33 632.86 L610.47 632.72 L610.64 632.61 L610.82 632.52 L611.01 632.46 L611.21 632.43 L611.43 632.42 L611.65 632.45 L611.88 632.50 L612.12 632.57 L612.36 632.67 L612.60 632.80 L612.84 632.95 L613.08 633.13 L613.32 633.32 L613.55 633.54 L613.77 633.77 L613.99 634.03 L614.19 634.29 L614.38 634.58 L614.56 634.87 L614.73 635.17 L614.87 635.47 L615.00 635.78 L615.11 636.09 L615.21 636.41 L615.28 636.71 L615.33 637.02 L615.36 637.31 Z" stroke="#2a2a2a" stroke-width="0.60" fill="none" />
<circle cx="612.6" cy="636.0" r="1.7" fill="#2a2a2a"/>
<path d="M637.76 651.90 L637.75 652.30 L637.70 652.69 L637.62 653.06 L637.51 653.39 L637.37 653.70 L637.20 653.97 L637.01 654.22 L636.79 654.42 L636.54 654.59 L636.28 654.72 L635.99 654.81 L635.68 654.85 L635.36 654.86 L635.02 654.83 L634.68 654.76 L634.32 654.64 L633.96 654.49 L633.60 654.30 L633.24 654.07 L632.88 653.81 L632.52 653.52 L632.18 653.19 L631.84 652.84 L631.52 652.46 L631.21 652.06 L630.92 651.64 L630.66 651.20 L630.41 650.75 L630.19 650.29 L630.00 649.83 L629.83 649.36 L629.69 648.89 L629.58 648.43 L629.50 647.97 L629.45 647.53 L629.44 647.10 L629.45 646.70 L629.50 646.31 L629.58 645.94 L629.69 645.61 L629.83 645.30 L630.00 645.03 L630.19 644.78 L630.41 644.58 L630.66 644.41 L630.92 644.28 L631.21 644.19 L631.52 644.15 L631.84 644.14 L632.18 644.17 L632.52 644.24 L632.88 644.36 L633.24 644.51 L633.60 644.70 L633.96 644.93 L634.32 645.19 L634.68 645.48 L635.02 645.81 L635.36 646.16 L635.68 646.54 L635.99 646.94 L636.28 647.36 L636.54 647.80 L636.79 648.25 L637.01 648.71 L637.20 649.17 L637.37 649.64 L637.51 650.11 L637.62 650.57 L637.70 651.03 L637.75 651.47 Z" stroke="#2a2a2a" stroke-width="1.00" fill="#fff" />
<path d="M636.37 651.10 L636.36 651.37 L636.33 651.63 L636.28 651.87 L636.21 652.09 L636.11 652.30 L636.00 652.48 L635.87 652.64 L635.73 652.78 L635.56 652.89 L635.38 652.98 L635.19 653.04 L634.99 653.07 L634.77 653.08 L634.55 653.05 L634.32 653.00 L634.08 652.93 L633.84 652.83 L633.60 652.70 L633.36 652.55 L633.12 652.37 L632.88 652.18 L632.65 651.96 L632.43 651.73 L632.21 651.47 L632.01 651.21 L631.82 650.92 L631.64 650.63 L631.47 650.33 L631.33 650.03 L631.20 649.72 L631.09 649.41 L630.99 649.09 L630.92 648.79 L630.87 648.48 L630.84 648.19 L630.83 647.90 L630.84 647.63 L630.87 647.37 L630.92 647.13 L630.99 646.91 L631.09 646.70 L631.20 646.52 L631.33 646.36 L631.47 646.22 L631.64 646.11 L631.82 646.02 L632.01 645.96 L632.21 645.93 L632.43 645.92 L632.65 645.95 L632.88 646.00 L633.12 646.07 L633.36 646.17 L633.60 646.30 L633.84 646.45 L634.08 646.63 L634.32 646.82 L634.55 647.04 L634.77 647.27 L634.99 647.53 L635.19 647.79 L635.38 648.08 L635.56 648.37 L635.73 648.67 L635.87 648.97 L636.00 649.28 L636.11 649.59 L636.21 649.91 L636.28 650.21 L636.33 650.52 L636.36 650.81 Z" stroke="#2a2a2a" stroke-width="0.60" fill="none" />
<circle cx="633.6" cy="649.5" r="1.7" fill="#2a2a2a"/>
<path d="M557.53 703.92 L558.03 638.82 L558.11 637.87 L558.33 636.93 L558.69 636.00 L559.20 635.09 L559.84 634.21 L560.62 633.37 L561.52 632.57 L562.54 631.81 L563.67 631.12 L564.91 630.48 L566.24 629.90 L567.65 629.39 L569.14 628.96 L570.68 628.60 L572.28 628.32 L573.91 628.12 L575.57 628.00 L577.24 627.97 L578.91 628.02 L580.57 628.15 L582.21 628.36 L583.80 628.65 L585.34 629.02 L586.82 629.47 L588.23 629.99 L589.56 630.58 L590.79 631.23 L591.91 631.93 L592.93 632.69 L593.83 633.50 L594.59 634.35 L595.23 635.23 L595.73 636.14 L596.09 637.08 L596.30 638.02 L596.37 638.98 L595.87 704.08 L595.79 705.03 L595.57 705.97 L595.21 706.90 L594.70 707.81 L594.06 708.69 L593.28 709.53 L592.38 710.33 L591.36 711.09 L590.23 711.78 L588.99 712.42 L587.66 713.00 L586.25 713.51 L584.76 713.94 L583.22 714.30 L581.62 714.58 L579.99 714.78 L578.33 714.90 L576.66 714.93 L574.99 714.88 L573.33 714.75 L571.70 714.54 L570.10 714.25 L568.56 713.88 L567.08 713.43 L565.67 712.91 L564.34 712.32 L563.11 711.67 L561.99 710.97 L560.97 710.21 L560.08 709.40 L559.31 708.55 L558.67 707.67 L558.17 706.75 L557.81 705.82 L557.60 704.88 Z" stroke="#2a2a2a" stroke-width="1.10" fill="#fff" />
<path d="M558.1 658.6 Q556 666 561.6 671.4 Q565 673.5 568.6 673.7" stroke="#2a2a2a" stroke-width="0.80" fill="none" />
<path d="M569.6 674.3 C578 667 590 662 601 662.5 L615.4 670.1 L598.7 705 L567.4 686.4 Z" stroke="none" stroke-width="0.00" fill="#fff" />
<path d="M569.6 674.3 C578 667 590 662 601 662.5 L615.4 670.1" stroke="#2a2a2a" stroke-width="1.00" fill="none" />
<path d="M567.4 686.4 L598.7 705" stroke="#2a2a2a" stroke-width="1.00" fill="none" />
<path d="M616.07 677.13 L616.01 678.56 L615.86 680.03 L615.59 681.54 L615.23 683.08 L614.76 684.63 L614.20 686.19 L613.55 687.73 L612.81 689.26 L611.99 690.75 L611.09 692.20 L610.13 693.60 L609.10 694.92 L608.02 696.18 L606.90 697.35 L605.74 698.42 L604.55 699.39 L603.35 700.26 L602.13 701.00 L600.92 701.63 L599.71 702.13 L598.53 702.50 L597.37 702.73 L596.24 702.83 L595.16 702.80 L594.14 702.63 L593.17 702.32 L592.28 701.88 L591.46 701.32 L590.72 700.63 L590.06 699.82 L589.50 698.90 L589.04 697.87 L588.67 696.75 L588.41 695.53 L588.25 694.24 L588.20 692.88 L588.25 691.45 L588.41 689.98 L588.67 688.47 L589.04 686.93 L589.50 685.38 L590.06 683.82 L590.72 682.28 L591.46 680.75 L592.28 679.26 L593.17 677.81 L594.14 676.41 L595.16 675.08 L596.24 673.83 L597.37 672.66 L598.53 671.59 L599.71 670.61 L600.92 669.75 L602.13 669.00 L603.35 668.38 L604.55 667.88 L605.74 667.51 L606.90 667.28 L608.02 667.18 L609.10 667.21 L610.13 667.38 L611.09 667.69 L611.99 668.12 L612.81 668.69 L613.55 669.38 L614.20 670.19 L614.76 671.11 L615.23 672.13 L615.59 673.26 L615.86 674.47 L616.01 675.77 Z" stroke="#2a2a2a" stroke-width="0.70" fill="#fff" />
<path d="M619.54 679.13 L619.48 680.55 L619.32 682.03 L619.06 683.54 L618.70 685.08 L618.23 686.63 L617.67 688.18 L617.02 689.73 L616.28 691.25 L615.45 692.75 L614.56 694.20 L613.59 695.59 L612.57 696.92 L611.49 698.17 L610.37 699.34 L609.21 700.42 L608.02 701.39 L606.81 702.25 L605.60 703.00 L604.39 703.63 L603.18 704.12 L601.99 704.49 L600.83 704.73 L599.71 704.83 L598.63 704.79 L597.61 704.62 L596.64 704.32 L595.75 703.88 L594.92 703.31 L594.18 702.63 L593.53 701.82 L592.97 700.90 L592.50 699.87 L592.14 698.74 L591.88 697.53 L591.72 696.24 L591.66 694.87 L591.72 693.45 L591.88 691.97 L592.14 690.46 L592.50 688.92 L592.97 687.37 L593.53 685.82 L594.18 684.27 L594.92 682.75 L595.75 681.25 L596.64 679.80 L597.61 678.41 L598.63 677.08 L599.71 675.83 L600.83 674.66 L601.99 673.58 L603.18 672.61 L604.39 671.75 L605.60 671.00 L606.81 670.37 L608.02 669.88 L609.21 669.51 L610.37 669.27 L611.49 669.17 L612.57 669.21 L613.59 669.38 L614.56 669.68 L615.45 670.12 L616.28 670.69 L617.02 671.37 L617.67 672.18 L618.23 673.10 L618.70 674.13 L619.06 675.26 L619.32 676.47 L619.48 677.76 Z" stroke="#2a2a2a" stroke-width="1.10" fill="#fff" />
<path d="M565 674 Q563 680 565 686.5 L569 686.5 Q567.5 680 569 674 Z" stroke="#2a2a2a" stroke-width="0.90" fill="#fff" />
<path d="M610.01 687.58 L609.98 688.47 L609.88 689.39 L609.71 690.34 L609.48 691.30 L609.19 692.27 L608.84 693.24 L608.43 694.21 L607.97 695.16 L607.46 696.09 L606.90 697.00 L606.30 697.87 L605.65 698.70 L604.98 699.48 L604.28 700.21 L603.55 700.89 L602.81 701.49 L602.06 702.03 L601.30 702.50 L600.54 702.89 L599.79 703.20 L599.05 703.43 L598.32 703.58 L597.62 703.64 L596.94 703.62 L596.30 703.51 L595.70 703.32 L595.14 703.05 L594.63 702.70 L594.17 702.27 L593.76 701.76 L593.41 701.19 L593.12 700.54 L592.89 699.84 L592.72 699.08 L592.62 698.27 L592.59 697.42 L592.62 696.53 L592.72 695.61 L592.89 694.66 L593.12 693.70 L593.41 692.73 L593.76 691.76 L594.17 690.79 L594.63 689.84 L595.14 688.91 L595.70 688.00 L596.30 687.13 L596.94 686.30 L597.62 685.52 L598.32 684.79 L599.05 684.11 L599.79 683.51 L600.54 682.97 L601.30 682.50 L602.06 682.11 L602.81 681.80 L603.55 681.57 L604.28 681.42 L604.98 681.36 L605.65 681.38 L606.30 681.49 L606.90 681.68 L607.46 681.95 L607.97 682.30 L608.43 682.73 L608.84 683.24 L609.19 683.81 L609.48 684.46 L609.71 685.16 L609.88 685.92 L609.98 686.73 Z" stroke="#2a2a2a" stroke-width="1.60" fill="#fff" />
<path d="M607.33 688.81 L607.31 689.48 L607.23 690.17 L607.11 690.88 L606.94 691.60 L606.72 692.33 L606.46 693.05 L606.15 693.78 L605.80 694.49 L605.42 695.19 L605.00 695.87 L604.55 696.53 L604.07 697.15 L603.56 697.74 L603.03 698.29 L602.49 698.79 L601.93 699.25 L601.37 699.65 L600.80 700.00 L600.23 700.29 L599.67 700.53 L599.11 700.70 L598.57 700.81 L598.04 700.86 L597.53 700.84 L597.05 700.76 L596.60 700.62 L596.18 700.41 L595.80 700.15 L595.45 699.82 L595.14 699.45 L594.88 699.01 L594.66 698.53 L594.49 698.01 L594.37 697.44 L594.29 696.83 L594.27 696.19 L594.29 695.52 L594.37 694.83 L594.49 694.12 L594.66 693.40 L594.88 692.67 L595.14 691.95 L595.45 691.22 L595.80 690.51 L596.18 689.81 L596.60 689.13 L597.05 688.47 L597.53 687.85 L598.04 687.26 L598.57 686.71 L599.11 686.21 L599.67 685.75 L600.23 685.35 L600.80 685.00 L601.37 684.71 L601.93 684.47 L602.49 684.30 L603.03 684.19 L603.56 684.14 L604.07 684.16 L604.55 684.24 L605.00 684.38 L605.42 684.59 L605.80 684.85 L606.15 685.18 L606.46 685.55 L606.72 685.99 L606.94 686.47 L607.11 686.99 L607.23 687.56 L607.31 688.17 Z" stroke="#2a2a2a" stroke-width="0.70" fill="none" />
<path d="M604.22 690.29 L604.20 690.69 L604.16 691.10 L604.09 691.53 L603.98 691.96 L603.85 692.40 L603.69 692.83 L603.51 693.27 L603.30 693.70 L603.07 694.12 L602.82 694.52 L602.55 694.92 L602.26 695.29 L601.96 695.64 L601.64 695.97 L601.31 696.27 L600.98 696.55 L600.64 696.79 L600.30 697.00 L599.96 697.18 L599.62 697.32 L599.29 697.42 L598.96 697.49 L598.64 697.51 L598.34 697.50 L598.05 697.46 L597.78 697.37 L597.53 697.25 L597.30 697.09 L597.09 696.89 L596.91 696.67 L596.75 696.41 L596.62 696.12 L596.51 695.80 L596.44 695.46 L596.40 695.10 L596.38 694.71 L596.40 694.31 L596.44 693.90 L596.51 693.47 L596.62 693.04 L596.75 692.60 L596.91 692.17 L597.09 691.73 L597.30 691.30 L597.53 690.88 L597.78 690.48 L598.05 690.08 L598.34 689.71 L598.64 689.36 L598.96 689.03 L599.29 688.73 L599.62 688.45 L599.96 688.21 L600.30 688.00 L600.64 687.82 L600.98 687.68 L601.31 687.58 L601.64 687.51 L601.96 687.49 L602.26 687.50 L602.55 687.54 L602.82 687.63 L603.07 687.75 L603.30 687.91 L603.51 688.11 L603.69 688.33 L603.85 688.59 L603.98 688.88 L604.09 689.20 L604.16 689.54 L604.20 689.90 Z" stroke="#2a2a2a" stroke-width="1.40" fill="none" />
<path d="M601.74 691.52 L601.74 691.69 L601.72 691.88 L601.68 692.07 L601.64 692.26 L601.58 692.45 L601.51 692.65 L601.43 692.84 L601.33 693.03 L601.23 693.22 L601.12 693.40 L601.00 693.57 L600.87 693.74 L600.74 693.90 L600.60 694.04 L600.45 694.18 L600.30 694.30 L600.15 694.41 L600.00 694.50 L599.85 694.58 L599.70 694.64 L599.55 694.69 L599.40 694.72 L599.26 694.73 L599.13 694.72 L599.00 694.70 L598.88 694.66 L598.77 694.61 L598.67 694.54 L598.57 694.45 L598.49 694.35 L598.42 694.24 L598.36 694.11 L598.32 693.97 L598.28 693.82 L598.26 693.65 L598.26 693.48 L598.26 693.31 L598.28 693.12 L598.32 692.93 L598.36 692.74 L598.42 692.55 L598.49 692.35 L598.57 692.16 L598.67 691.97 L598.77 691.78 L598.88 691.60 L599.00 691.43 L599.13 691.26 L599.26 691.10 L599.40 690.96 L599.55 690.82 L599.70 690.70 L599.85 690.59 L600.00 690.50 L600.15 690.42 L600.30 690.36 L600.45 690.31 L600.60 690.28 L600.74 690.27 L600.87 690.28 L601.00 690.30 L601.12 690.34 L601.23 690.39 L601.33 690.46 L601.43 690.55 L601.51 690.65 L601.58 690.76 L601.64 690.89 L601.68 691.03 L601.72 691.18 L601.74 691.35 Z" stroke="#2a2a2a" stroke-width="0.90" fill="none" />
<path d="M590.73 646.68 L591.86 645.99 L592.88 645.23 L593.78 644.43 L594.56 643.59 L595.20 642.71 L595.71 641.80 L596.07 640.87 L596.29 639.93 L596.37 638.98 L596.30 638.02 L596.09 637.08 L595.73 636.15 L595.23 635.23 L594.59 634.35 L593.83 633.50 L592.93 632.69 L591.91 631.93 L590.79 631.22 L589.56 630.58 L588.23 629.99 L586.82 629.47 L585.34 629.03 L583.80 628.65 L582.20 628.36 L580.57 628.15 L578.91 628.02 L577.24 627.97 L575.57 628.00 L573.91 628.12 L572.28 628.32 L570.68 628.60 L569.14 628.96 L567.65 629.39 L566.24 629.90 L564.91 630.48 L563.67 631.12 L562.54 631.81 L561.52 632.57 L560.62 633.37 L559.84 634.21 L559.20 635.09 L558.69 636.00 L558.33 636.93 L558.11 637.87 L558.03 638.82 L558.10 639.78 L558.31 640.72 L558.67 641.65 L559.17 642.57 L559.81 643.45 L560.57 644.30 L561.47 645.11 L562.49 645.87 L563.61 646.58 L564.84 647.22 L566.17 647.81 L567.58 648.33 L569.06 648.77 L570.60 649.15 L572.20 649.44 L573.83 649.65 L575.49 649.78 L577.16 649.83 L578.83 649.80 L580.49 649.68 L582.12 649.48 L583.72 649.20 L585.26 648.84 L586.75 648.41 L588.16 647.90 L589.49 647.32 Z" stroke="#2a2a2a" stroke-width="1.40" fill="#fff" />
<ellipse cx="577.5" cy="640" rx="13" ry="6.3" fill="none" stroke="#2a2a2a" stroke-width="1.1"/>
<path d="M565 648 Q577 652 590 648" stroke="#666" stroke-width="0.60" fill="none" stroke-dasharray="4 3"/>
<path d="M582 673 Q595 665 610 668" stroke="#777" stroke-width="0.50" fill="none" />
<path d="M353 521.4 H393.5 L452 562" stroke="#222" stroke-width="0.90" fill="none" />
<polygon points="462.0,570.0 445.8,554.3 441.4,560.9" fill="#000"/>
<path d="M384 707.9 H426 L455 665" stroke="#222" stroke-width="0.90" fill="none" />
<polygon points="462.0,651.8 448.2,665.8 455.0,670.2" fill="#000"/>
<text x="140.8" y="497.2" font-family="Liberation Sans" font-size="25.1" font-weight="normal" font-style="normal" fill="#111" textLength="208.4" lengthAdjust="spacingAndGlyphs" stroke="#fff" stroke-width="0.25">ACQUA FREDDA</text>
<text x="174.0" y="527.8" font-family="Liberation Sans" font-size="25.7" font-weight="normal" font-style="italic" fill="#111" textLength="170.0" lengthAdjust="spacingAndGlyphs" stroke="#fff" stroke-width="0.25">COLD WATER</text>
<text x="274.0" y="559.6" font-family="Liberation Sans" font-size="25.7" font-weight="normal" font-style="normal" fill="#111" textLength="67.0" lengthAdjust="spacingAndGlyphs" stroke="#fff" stroke-width="0.25">G1/2</text>
<text x="187.8" y="657.8" font-family="Liberation Sans" font-size="24.6" font-weight="normal" font-style="normal" fill="#111" textLength="199.1" lengthAdjust="spacingAndGlyphs" stroke="#fff" stroke-width="0.25">ACQUA CALDA</text>
<text x="238.0" y="689.5" font-family="Liberation Sans" font-size="25.1" font-weight="normal" font-style="italic" fill="#111" textLength="143.9" lengthAdjust="spacingAndGlyphs" stroke="#fff" stroke-width="0.25">HOT WATER</text>
<text x="310.0" y="720.5" font-family="Liberation Sans" font-size="24.4" font-weight="normal" font-style="normal" fill="#111" textLength="68.0" lengthAdjust="spacingAndGlyphs" stroke="#fff" stroke-width="0.25">G1/2</text>
</svg>
</body></html>
